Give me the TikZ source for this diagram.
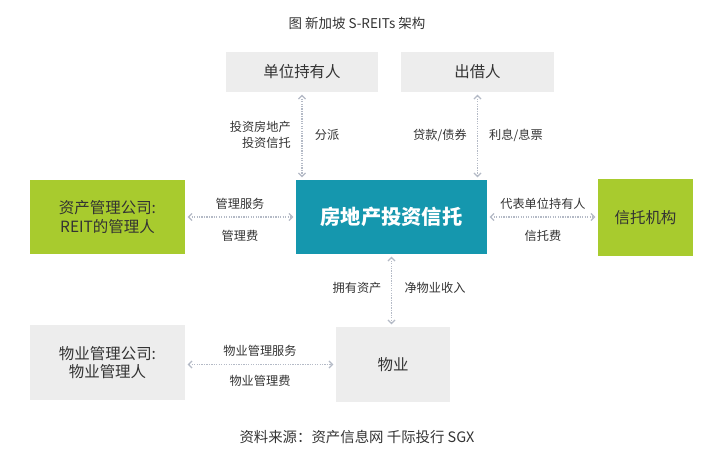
\documentclass[tikz,border=0pt]{standalone}
\usepackage{fontspec}
\setmainfont{Noto Sans CJK SC}
\usetikzlibrary{arrows.meta}

\definecolor{boxgray}{HTML}{EDEDED}
\definecolor{reitteal}{HTML}{1597AE}
\definecolor{limegreen}{HTML}{A8CB2E}
\definecolor{flowgray}{HTML}{B4BAC6}
\definecolor{txtgray}{HTML}{333333}

\tikzset{
  graybox/.style={fill=boxgray, text=txtgray, font=\fontsize{13.2}{16}\selectfont, align=center, inner sep=0pt},
  greenbox/.style={fill=limegreen, text=txtgray, font=\fontsize{13.2}{16}\selectfont, align=center, inner sep=0pt},
  flow/.style={flowgray, densely dotted, line width=1.1pt, {Straight Barb[length=3pt,width=6pt]}-{Straight Barb[length=3pt,width=6pt]}, shorten <=2pt, shorten >=2pt},
  lbl/.style={text=txtgray, font=\fontsize{10.4}{14}\selectfont, inner sep=0pt}
}

\begin{document}
\begin{tikzpicture}[x=0.03cm, y=-0.03cm]
    \useasboundingbox (0,0) rectangle (714,457);

    % title and source
    \node[text=txtgray, font=\fontsize{11.5}{13}\selectfont] (title) at (357,23) {图 新加坡 S-REITs 架构};
    \node[text=txtgray, font=\fontsize{12.3}{14}\selectfont] (source) at (357,437) {资料来源：资产信息网 千际投行 SGX};

    % boxes
    \node[graybox, minimum width=4.56cm, minimum height=1.2cm] (holders) at (302,72) {单位持有人};
    \node[graybox, minimum width=4.59cm, minimum height=1.2cm] (lender) at (477.5,72) {出借人};
    \node[greenbox, minimum width=4.65cm, minimum height=2.22cm] (manager) at (107.5,217) {资产管理公司:\\REIT的管理人};
    \node[fill=reitteal, text=white, font=\fontsize{17.3}{19}\selectfont\bfseries, minimum width=5.73cm, minimum height=2.22cm, inner sep=0pt] (reit) at (391.5,217) {房地产投资信托};
    \node[greenbox, minimum width=2.85cm, minimum height=2.31cm] (trustee) at (645.5,217.5) {信托机构};
    \node[graybox, minimum width=4.65cm, minimum height=2.25cm] (pmanager) at (107.5,362.5) {物业管理公司:\\物业管理人};
    \node[graybox, minimum width=3.42cm, minimum height=2.25cm] (property) at (393,364.5) {物业};

    % flows
    \draw[flow] (holders.south) -- (holders.south |- reit.north);
    \draw[flow] (lender.south) -- (lender.south |- reit.north);
    \draw[flow] (manager.east |- reit.west) -- (reit.west);
    \draw[flow] (reit.east) -- (trustee.west |- reit.east);
    \draw[flow] (reit.south) -- (reit.south |- property.north);
    \draw[flow] (pmanager.east |- property.west) -- (property.west);

    % labels
    \node[lbl, align=right, anchor=east] (invest) at (291,135) {投资房地产\\投资信托};
    \node[lbl] (dist) at (327,135) {分派};
    \node[lbl] (loan) at (440,135) {贷款/债券};
    \node[lbl] (interest) at (516,135) {利息/息票};
    \node[lbl] (mservice) at (240,204) {管理服务};
    \node[lbl] (mfee) at (240,236) {管理费};
    \node[lbl] (onbehalf) at (543,204) {代表单位持有人};
    \node[lbl] (tfee) at (543,236) {信托费};
    \node[lbl] (own) at (357,288) {拥有资产};
    \node[lbl] (noi) at (435,288) {净物业收入};
    \node[lbl] (pservice) at (260,351) {物业管理服务};
    \node[lbl] (pfee) at (260,381) {物业管理费};
\end{tikzpicture}
\end{document}
